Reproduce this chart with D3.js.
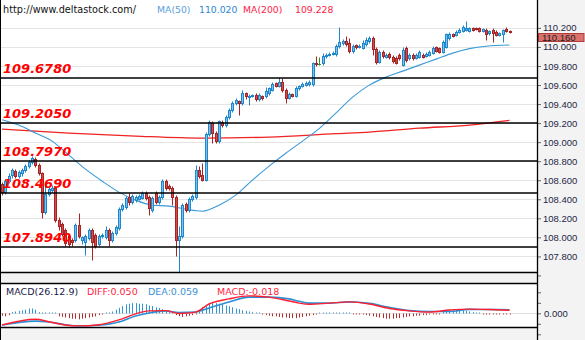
<!DOCTYPE html>
<html><head><meta charset="utf-8">
<script src="https://cdn.jsdelivr.net/npm/d3@7"></script>
<style>
html,body{margin:0;padding:0;background:#fff;}
svg{display:block;}
</style></head>
<body><svg id="chart" width="585" height="340"></svg>
<script>
// USD/JPY style candles, oldest first
const opens = [108.559,108.475,108.590,108.653,108.695,108.643,108.674,108.706,108.748,108.790,
108.821,108.758,108.674,108.265,108.454,108.496,108.517,108.181,108.139,108.076,
108.013,107.971,107.971,108.128,107.971,107.950,107.992,108.076,108.023,107.929,
108.013,108.002,108.076,107.971,108.044,108.097,108.296,108.317,108.422,108.370,
108.391,108.401,108.412,108.464,108.422,108.286,108.464,108.370,108.422,108.590,
108.538,108.517,108.422,107.971,108.013,108.349,108.286,108.401,108.422,108.706,
108.653,108.601,109.084,109.200,109.095,109.011,109.210,109.179,109.263,109.336,
109.410,109.431,109.410,109.515,109.473,109.483,109.494,109.452,109.483,109.483,
109.515,109.546,109.620,109.588,109.630,109.546,109.462,109.504,109.483,109.567,
109.588,109.599,109.609,109.609,109.830,109.825,109.830,109.903,109.914,109.924,
109.924,110.008,110.040,110.061,110.040,109.956,110.019,109.998,109.987,110.029,
110.061,110.092,109.977,109.840,109.945,109.893,109.924,109.893,109.882,109.914,
109.809,109.987,109.882,109.914,109.882,109.893,109.914,109.903,109.914,109.935,
109.998,109.987,109.945,109.998,110.092,110.134,110.124,110.155,110.166,110.176,
110.166,110.197,110.197,110.197,110.166,110.176,110.145,110.176,110.155,110.124,
110.134,110.187,110.166];
const highs = [108.580,108.611,108.674,108.727,108.716,108.706,108.727,108.769,108.811,108.853,
108.842,108.779,108.685,108.559,108.538,108.548,108.538,108.212,108.160,108.097,
108.034,107.992,108.149,108.254,108.013,108.034,108.097,108.097,108.044,108.034,
108.044,108.118,108.097,108.065,108.128,108.317,108.359,108.433,108.464,108.454,
108.443,108.454,108.485,108.485,108.443,108.433,108.485,108.443,108.611,108.611,
108.559,108.538,108.443,108.118,108.359,108.370,108.422,108.454,108.758,108.748,
108.779,109.105,109.231,109.221,109.116,109.231,109.231,109.284,109.357,109.431,
109.462,109.441,109.546,109.525,109.504,109.504,109.515,109.515,109.494,109.578,
109.578,109.630,109.630,109.683,109.672,109.567,109.525,109.515,109.588,109.599,
109.630,109.641,109.651,109.840,109.903,109.893,109.935,109.935,109.945,109.956,
110.029,110.208,110.082,110.113,110.092,110.029,110.029,110.029,110.071,110.103,
110.113,110.113,109.998,109.966,109.966,109.935,109.945,109.914,109.903,109.935,
109.998,110.008,109.935,109.935,109.935,109.966,109.935,109.945,109.966,110.008,
110.008,109.998,110.071,110.145,110.155,110.145,110.176,110.197,110.229,110.271,
110.208,110.208,110.208,110.208,110.197,110.197,110.176,110.197,110.176,110.155,
110.187,110.208,110.176];
const lows = [108.443,108.454,108.569,108.622,108.622,108.622,108.643,108.685,108.727,108.769,
108.737,108.653,108.202,108.244,108.433,108.475,108.160,108.076,108.013,107.908,
107.897,107.908,107.950,107.992,107.929,107.813,107.971,107.760,107.887,107.908,
107.992,107.981,107.908,107.950,108.023,108.076,108.275,108.296,108.338,108.349,
108.370,108.391,108.401,108.391,108.233,108.265,108.349,108.349,108.401,108.496,
108.496,108.338,107.802,107.634,107.992,108.265,108.265,108.380,108.401,108.622,
108.590,108.590,109.063,108.989,108.989,108.989,109.158,109.158,109.242,109.315,
109.389,109.284,109.389,109.452,109.389,109.473,109.431,109.431,109.441,109.462,
109.494,109.536,109.578,109.578,109.525,109.410,109.452,109.473,109.473,109.546,
109.578,109.588,109.588,109.588,109.798,109.809,109.809,109.882,109.903,109.914,
109.903,109.987,110.019,110.008,109.935,109.935,109.977,109.987,109.977,110.008,
110.040,109.914,109.819,109.830,109.882,109.882,109.872,109.830,109.819,109.861,
109.798,109.840,109.861,109.861,109.872,109.882,109.882,109.893,109.903,109.924,
109.945,109.935,109.935,109.987,110.071,110.103,110.113,110.145,110.155,110.166,
110.155,110.166,110.176,110.155,110.155,110.071,110.124,110.050,110.113,110.113,
110.050,110.155,110.145];
const closes = [108.475,108.590,108.643,108.706,108.643,108.685,108.706,108.748,108.790,108.832,
108.758,108.674,108.265,108.454,108.506,108.517,108.181,108.118,108.034,107.939,
107.929,107.950,108.128,108.013,108.002,108.013,108.076,107.950,107.908,108.013,
108.023,108.076,107.971,108.044,108.107,108.296,108.338,108.412,108.370,108.433,
108.422,108.433,108.464,108.412,108.307,108.412,108.370,108.422,108.590,108.517,
108.517,108.422,107.971,108.013,108.338,108.286,108.401,108.433,108.706,108.643,
108.601,109.084,109.210,109.095,109.011,109.221,109.179,109.263,109.336,109.410,
109.441,109.410,109.515,109.483,109.483,109.494,109.452,109.494,109.462,109.536,
109.567,109.609,109.588,109.630,109.546,109.462,109.504,109.483,109.567,109.588,
109.609,109.620,109.630,109.830,109.819,109.825,109.903,109.914,109.924,109.935,
110.008,110.050,110.061,110.029,109.956,110.008,109.998,110.008,110.040,110.071,
110.092,109.977,109.840,109.945,109.903,109.914,109.893,109.851,109.830,109.882,
109.966,109.861,109.914,109.882,109.914,109.945,109.893,109.924,109.945,109.987,
109.956,109.945,110.050,110.134,110.134,110.113,110.155,110.176,110.208,110.197,
110.197,110.176,110.187,110.166,110.187,110.134,110.166,110.145,110.124,110.145,
110.176,110.166,110.160];

// Moving averages, read at the listed candle indices
const ma50Idx = [0,5,10,15,20,25,30,35,40,45,50,55,60,65,70,75,80,85,90,95,100,105,110,115,120,125,130,135,140,145,152];
const ma50 = [109.236,109.179,109.095,109.011,108.863,108.716,108.590,108.475,108.391,108.338,
108.328,108.296,108.275,108.338,108.443,108.601,108.748,108.884,109.011,109.142,
109.305,109.473,109.599,109.683,109.746,109.809,109.872,109.935,109.982,110.008,110.020];
const ma200Idx = [0,20,40,60,80,100,110,125,140,152];
const ma200 = [109.137,109.095,109.063,109.042,109.053,109.089,109.105,109.147,109.179,109.228];

// Support / resistance levels
const levels = [109.678, 109.205, 108.797, 108.469, 107.894];

// Price axis ticks
const priceTicks = [107.6,107.8,108.0,108.2,108.4,108.6,108.8,109.0,109.2,109.4,109.6,109.8,110.0,110.2];

// MACD(26,12,9)
const macdIdx = [0,10,14,19,23,29,35,40,44,49,53,58,62,68,74,80,86,89,92,98,104,110,116,122,128,134,140,146,152];
const diff = [-0.195,-0.10,-0.14,-0.195,-0.21,-0.19,-0.11,-0.01,0.04,0.045,-0.003,0.02,0.155,0.24,0.29,
0.27,0.205,0.17,0.15,0.17,0.19,0.155,0.08,0.04,0.02,0.055,0.07,0.063,0.050];
const dea = [-0.195,-0.13,-0.145,-0.19,-0.21,-0.20,-0.145,-0.045,0.005,0.04,0.013,0.02,0.09,0.19,0.27,
0.27,0.24,0.20,0.17,0.17,0.19,0.165,0.10,0.045,0.03,0.03,0.065,0.063,0.059];
const hist = [-0.04,-0.05,-0.03,
0.02,0.03,0.04,0.05,0.06,0.08,0.08,0.06,
0.02,0.01,0.005,0.005,0.005,0.003,
-0.05,-0.06,-0.07,-0.08,-0.09,-0.09,-0.1,-0.09,-0.08,-0.07,-0.06,-0.05,-0.03,
-0.01,0.005,0.01,
0.03,0.06,0.09,0.12,0.15,0.16,0.17,0.17,0.16,0.16,0.15,0.13,0.12,0.1,0.09,0.07,0.05,0.03,0.02,
-0.03,-0.05,-0.06,-0.05,-0.04,-0.03,-0.02,
0.05,0.1,0.14,0.16,0.17,0.17,0.16,0.15,0.13,0.12,0.1,0.08,0.07,0.05,0.04,0.03,0.02,0.01,0.005,
-0.02,-0.03,-0.04,-0.05,-0.05,-0.06,-0.07,-0.07,-0.08,-0.08,-0.08,-0.07,-0.06,-0.05,-0.04,-0.03,-0.01,
0.01,0.01,0.01,0.015,0.01,0.01,0.01,0.01,0.005,0.005,-0.005,-0.005,-0.01,
-0.02,-0.03,-0.04,-0.05,-0.06,-0.07,-0.08,-0.09,-0.09,-0.09,-0.08,-0.08,-0.07,-0.06,-0.05,-0.05,-0.04,-0.04,-0.03,-0.03,-0.02,-0.02,-0.01,-0.005,
0.03,0.05,0.06,0.07,0.07,0.06,0.05,0.04,0.03,0.02,0.01,0.005,
-0.01,-0.015,-0.02,-0.02,-0.02,-0.02,-0.02,-0.02,-0.018];
const macdTicks = [0.35, 0.175, 0, -0.175, -0.35];

const W = 585, H = 340;
const plotRight = 537;
const mainBottom = 272;
const macdTop = 283.5, macdBottom = 327.5;

const BULL_FILL = '#7cc0ec', BULL_STROKE = '#1f87cc';
const BEAR_FILL = '#cc4f4f', BEAR_STROKE = '#a82424';
const DOJI = '#1c9a2a';
const HEAD_FONT = '"DejaVu Sans", Verdana, sans-serif';
const AXIS_FONT = '"Liberation Sans", Arial, sans-serif';
// plain hyphen for negatives, as the terminal prints them
const fmt3 = v => d3.format('.3f')(v).replace('\u2212', '-');

const svg = d3.select('#chart');
const N = closes.length;

const x = d3.scaleLinear().domain([0, N - 1]).range([2, 509.5]);
const y = d3.scaleLinear().domain([107.8, 110.2]).range([256.4, 27.9]);
const ym = d3.scaleLinear().domain([-0.2333, 0.5]).range([327.3, 283.3]);
const cx = i => Math.round(x(i));
const py = v => Math.round(y(v)) + 0.5;

// Backgrounds
svg.append('rect').attr('x', 0).attr('y', 0).attr('width', W).attr('height', H).attr('fill', '#fff');
svg.append('rect').attr('x', plotRight).attr('y', 0).attr('width', W - plotRight).attr('height', H).attr('fill', '#f3f3f3');
svg.append('rect').attr('x', 0).attr('y', mainBottom).attr('width', plotRight).attr('height', macdTop - mainBottom).attr('fill', '#f3f3f3');
svg.append('rect').attr('x', 0).attr('y', macdBottom).attr('width', plotRight).attr('height', H - macdBottom).attr('fill', '#f3f3f3');

// Horizontal grid
const main = svg.append('g');
main.selectAll('line.grid').data(priceTicks.filter(v => v >= 107.8)).join('line')
  .attr('class', 'grid')
  .attr('x1', 0).attr('x2', plotRight)
  .attr('y1', d => py(d)).attr('y2', d => py(d))
  .attr('stroke', '#e4e4e4').attr('stroke-width', 1);

// Moving averages
const ma200Line = d3.line().x((d, k) => x(ma200Idx[k])).y(d => y(d)).curve(d3.curveMonotoneX);
main.append('path').datum(ma200).attr('d', ma200Line)
  .attr('fill', 'none').attr('stroke', '#f02222').attr('stroke-width', 1.3);
const ma50Line = d3.line().x((d, k) => x(ma50Idx[k])).y(d => y(d)).curve(d3.curveMonotoneX);
main.append('path').datum(ma50).attr('d', ma50Line)
  .attr('fill', 'none').attr('stroke', '#3a9ad8').attr('stroke-width', 1.1);

// Candles
const candles = main.append('g');
d3.range(N).forEach(i => {
  const o = opens[i], h = highs[i], l = lows[i], c = closes[i];
  const doji = o === c;
  const up = c > o;
  const stroke = doji ? DOJI : (up ? BULL_STROKE : BEAR_STROKE);
  const fill = doji ? DOJI : (up ? BULL_FILL : BEAR_FILL);
  const xc = cx(i);
  candles.append('line')
    .attr('x1', xc + 0.5).attr('x2', xc + 0.5)
    .attr('y1', py(h)).attr('y2', py(l))
    .attr('stroke', stroke).attr('stroke-width', 1);
  const top = py(Math.max(o, c)), bot = py(Math.min(o, c));
  if (bot - top < 1) {
    candles.append('line')
      .attr('x1', xc - 1).attr('x2', xc + 2)
      .attr('y1', top).attr('y2', top)
      .attr('stroke', stroke).attr('stroke-width', 1);
  } else {
    candles.append('rect')
      .attr('x', xc - 0.5).attr('y', top)
      .attr('width', 2).attr('height', bot - top)
      .attr('fill', fill).attr('stroke', stroke).attr('stroke-width', 1);
  }
});

// Level lines with labels
const lv = main.append('g');
lv.selectAll('line').data(levels).join('line')
  .attr('x1', 0).attr('x2', plotRight)
  .attr('y1', d => Math.round(y(d))).attr('y2', d => Math.round(y(d)))
  .attr('stroke', '#000').attr('stroke-width', 1.5);
lv.selectAll('text').data(levels).join('text')
  .attr('x', 3).attr('y', d => Math.round(y(d)) - 5)
  .attr('font-family', HEAD_FONT).attr('font-size', 13).attr('font-weight', 'bold').attr('font-style', 'italic')
  .attr('fill', '#ff0000')
  .text(d => d3.format('.4f')(d));

// Bottom edge of price pane
svg.append('line').attr('x1', 0).attr('x2', plotRight).attr('y1', mainBottom + 0.5).attr('y2', mainBottom + 0.5)
  .attr('stroke', '#000').attr('stroke-width', 1.3);

// Price axis
const yAxis = d3.axisRight(y).tickValues(priceTicks).tickSize(4).tickPadding(2)
  .tickFormat(v => v < 107.7 ? '' : fmt3(v));
const ax = svg.append('g').attr('transform', `translate(${plotRight},0)`).call(yAxis);
ax.select('.domain').remove();
ax.selectAll('.tick line').attr('stroke', '#666');
ax.selectAll('.tick text').attr('font-family', AXIS_FONT).attr('font-size', 9.5).attr('fill', '#1e2846');

// Last price tag
const last = closes[N - 1];
const tagY = y(last) + 1;
svg.append('rect').attr('x', plotRight + 1.5).attr('y', Math.round(tagY) + 0.5)
  .attr('width', W - plotRight - 2.5).attr('height', 8)
  .attr('fill', '#d9716d').attr('stroke', '#b33a36').attr('stroke-width', 1);
svg.append('text').attr('x', plotRight + 5).attr('y', Math.round(tagY) + 8)
  .attr('font-family', AXIS_FONT).attr('font-size', 9.5).attr('fill', '#222')
  .text(fmt3(last));

// Header
const head = svg.append('g').attr('font-family', HEAD_FONT).attr('font-size', 9.3);
head.append('text').attr('x', 3).attr('y', 12.5).attr('font-size', 9.7).attr('fill', '#111').text('http://www.deltastock.com/');
head.append('text').attr('x', 157).attr('y', 12.5).attr('fill', '#5a9fe0').text('MA(50)');
head.append('text').attr('x', 199).attr('y', 12.5).attr('fill', '#2f86d3').text(fmt3(ma50[ma50.length - 1]));
head.append('text').attr('x', 243).attr('y', 12.5).attr('fill', '#ff2244').text('MA(200)');
head.append('text').attr('x', 295).attr('y', 12.5).attr('fill', '#ff2244').text(fmt3(ma200[ma200.length - 1]));

// MACD pane
svg.append('line').attr('x1', 0).attr('x2', plotRight).attr('y1', macdTop).attr('y2', macdTop)
  .attr('stroke', '#000').attr('stroke-width', 1.3);
svg.append('line').attr('x1', 0).attr('x2', plotRight).attr('y1', macdBottom).attr('y2', macdBottom)
  .attr('stroke', '#000').attr('stroke-width', 1.3);
const zeroY = Math.round(ym(0)) + 0.5;
svg.append('line').attr('x1', 0).attr('x2', plotRight).attr('y1', zeroY).attr('y2', zeroY)
  .attr('stroke', '#e2e2e2').attr('stroke-width', 1);

const histG = svg.append('g');
hist.forEach((v, i) => {
  const y1 = zeroY;
  let y2 = ym(v);
  if (Math.abs(y2 - y1) < 1) y2 = v >= 0 ? y1 - 1 : y1 + 1;
  histG.append('line')
    .attr('x1', cx(i) + 0.5).attr('x2', cx(i) + 0.5)
    .attr('y1', y1).attr('y2', y2)
    .attr('stroke', v >= 0 ? '#2f95d6' : '#b52a2a').attr('stroke-width', 1);
});

const macdLine = d3.line().x((d, k) => x(macdIdx[k])).y(d => ym(d)).curve(d3.curveMonotoneX);
svg.append('path').datum(dea).attr('d', macdLine)
  .attr('fill', 'none').attr('stroke', '#2b8fd5').attr('stroke-width', 1.6);
svg.append('path').datum(diff).attr('d', macdLine)
  .attr('fill', 'none').attr('stroke', '#ff1f2f').attr('stroke-width', 1.4);

const mAxis = d3.axisRight(ym).tickValues(macdTicks).tickSize(4).tickPadding(3)
  .tickFormat(v => v === 0 ? fmt3(0) : '');
const mx = svg.append('g').attr('transform', `translate(${plotRight},0)`).call(mAxis);
mx.select('.domain').remove();
mx.selectAll('.tick line').attr('stroke', '#666');
mx.selectAll('.tick text').attr('font-family', AXIS_FONT).attr('font-size', 9.5).attr('fill', '#1e2846');

const mh = svg.append('g').attr('font-family', HEAD_FONT).attr('font-size', 9.5);
mh.append('text').attr('x', 6).attr('y', 294.5).attr('fill', '#1a1a4a').text('MACD(26.12.9)');
mh.append('text').attr('x', 87).attr('y', 294.5).attr('fill', '#ff1f3f').text('DIFF:' + fmt3(diff[diff.length - 1]));
mh.append('text').attr('x', 148).attr('y', 294.5).attr('fill', '#3a8fd5').text('DEA:' + fmt3(dea[dea.length - 1]));
mh.append('text').attr('x', 217).attr('y', 294.5).attr('fill', '#ff1f3f').text('MACD:' + fmt3(hist[hist.length - 1]));

// Frame lines
svg.append('line').attr('x1', 0.5).attr('x2', 0.5).attr('y1', 0).attr('y2', H).attr('stroke', '#000').attr('stroke-width', 1);
svg.append('line').attr('x1', plotRight + 0.5).attr('x2', plotRight + 0.5).attr('y1', 0).attr('y2', H).attr('stroke', '#000').attr('stroke-width', 1.3);
</script>
</body></html>
